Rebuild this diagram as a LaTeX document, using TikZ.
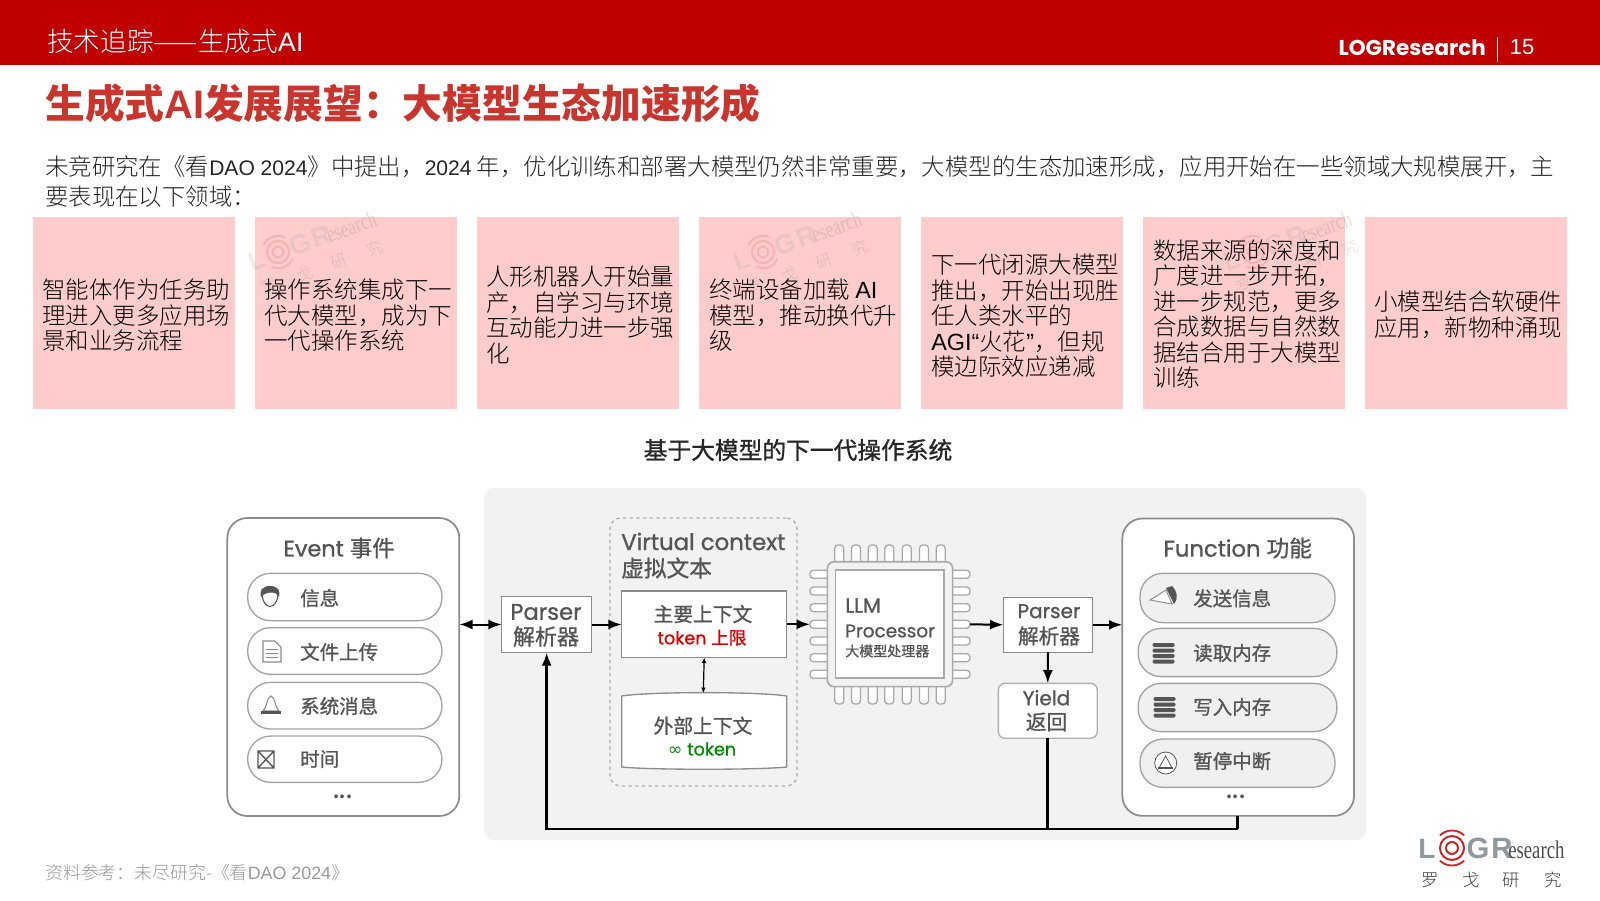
\documentclass[tikz,border=0pt]{standalone}
\usepackage{fontspec}
\usetikzlibrary{arrows.meta,shapes.geometric,calc}
\setmainfont{Noto Sans CJK SC}
\newfontfamily\arial{Liberation Sans}
\newfontfamily\geo{Poppins}
\newfontfamily\geomed[FakeBold=1.0]{Poppins}
\newfontfamily\cjkmed[FakeBold=1.0]{Noto Sans CJK SC}
\newfontfamily\cjklight{Noto Sans CJK SC Light}
\newfontfamily\serifslim[FakeStretch=0.74]{Liberation Serif}
\newcommand{\ar}[1]{{\arial #1}}
\newcommand{\arp}[1]{{\arial\fontsize{15.8pt}{20pt}\selectfont #1}}
\newcommand{\fsz}[2]{\fontsize{#1}{#2}\selectfont}
\definecolor{brand}{HTML}{C00000}
\definecolor{titlered}{HTML}{C9342D}
\definecolor{cardpink}{HTML}{FFCCCC}
\definecolor{panelgrey}{HTML}{F2F2F2}
\definecolor{diagink}{HTML}{555555}
\definecolor{edgegrey}{HTML}{8C8C8C}
\definecolor{ringred}{HTML}{C8282E}
\definecolor{logogrey}{HTML}{8F989E}
\tikzset{
  card/.style={fill=cardpink,draw=none,minimum width=151.5pt,minimum height=144pt,inner sep=0pt,outer sep=0pt},
  cardtext/.style={anchor=west,align=left,inner sep=0pt,font=\fsz{17.6pt}{19.1pt}\cjklight,text=black},
  bigframe/.style={draw=edgegrey,line width=1.3pt,rounded corners=15pt,fill=white,inner sep=0pt,outer sep=0pt},
  pill/.style={draw=edgegrey!80,line width=1pt,rounded corners=17.2pt,fill=white,inner sep=0pt,outer sep=0pt},
  greypill/.style={pill,fill=black!6},
  sqbox/.style={draw=edgegrey,line width=1pt,fill=white,inner sep=0pt,outer sep=0pt},
  dtext/.style={text=diagink,inner sep=0pt,font=\fsz{14.5pt}{16pt}\cjkmed},
  ptext/.style={text=diagink,inner sep=0pt,anchor=west,font=\fsz{14.6pt}{16pt}\cjkmed},
  flow/.style={black,line width=1.5pt,-{Latex[length=10pt,width=7.5pt]}},
  flowboth/.style={black,line width=1.5pt,{Latex[length=10pt,width=7.5pt]}-{Latex[length=10pt,width=7.5pt]}},
  flowsmall/.style={black,line width=0.9pt,{Latex[length=4pt,width=3.5pt]}-{Latex[length=4pt,width=3.5pt]}},
  trunk/.style={black,line width=2pt},
  pin/.style={draw=edgegrey!75,line width=1pt,fill=white,rounded corners=2.5pt},
  icon/.style={draw=diagink,line width=0.8pt},
}
% logo, origin at the centre of the rings, px coordinates
\newcommand{\logomark}{%
  \node[anchor=base,inner sep=0pt,text=logogrey,font=\fsz{21pt}{22pt}\bfseries\arial] at (-25,10) {L};
  \draw[ringred,line width=1.5pt] (0,0) circle[radius=6];
  \draw[ringred,line width=1.5pt] (0,0) circle[radius=12];
  \draw[ringred,line width=1.4pt] (-46:17.5) arc[start angle=-46,end angle=-134,radius=17.5];
  \draw[ringred,line width=1.4pt] (46:17.5) arc[start angle=46,end angle=134,radius=17.5];
  \node[anchor=base,inner sep=0pt,text=logogrey,font=\fsz{22pt}{22pt}\bfseries\arial] at (26,10) {G};
  \node[anchor=base west,inner sep=0pt,text=logogrey,font=\fsz{22pt}{22pt}\bfseries\arial] at (39,10) {R};
  \node[anchor=base west,inner sep=0pt,text=black!70,font=\fsz{19pt}{20pt}\serifslim] at (56,10) {esearch};
  \node[inner sep=0pt,text=black!75,font=\fsz{13pt}{14pt}\cjklight] at (-22,32) {罗};
  \node[inner sep=0pt,text=black!75,font=\fsz{13pt}{14pt}\cjklight] at (19,32) {戈};
  \node[inner sep=0pt,text=black!75,font=\fsz{13pt}{14pt}\cjklight] at (59,32) {研};
  \node[inner sep=0pt,text=black!75,font=\fsz{13pt}{14pt}\cjklight] at (101,32) {究};
}
\begin{document}
\begin{tikzpicture}[x=0.75pt,y=-0.75pt]
\useasboundingbox (0,0) rectangle (1600,900);
\fill[white] (0,0) rectangle (1600,900);
% header
\fill[brand] (0,0) rectangle (1600,65);
\node[anchor=west,inner sep=0pt,text=white,font=\fsz{20pt}{20pt}\cjklight] (sec) at (47,41) {技术追踪——生成式\ar{AI}};
\node[anchor=base east,inner sep=0pt,text=white,font=\fsz{16.1pt}{18pt}\geo\bfseries] (brandname) at (1486,55.7) {LOGResearch};
\draw[white,line width=0.8pt] (1497.7,37) -- (1497.7,62);
\node[inner sep=0pt,text=white,font=\fsz{16.5pt}{18pt}\arial] (pageno) at (1522,47) {15};
% title
\node[anchor=west,inner sep=0pt,text=titlered,font=\fsz{29.8pt}{30pt}\bfseries] (title) at (45,103) {生成式\ar{\bfseries AI}发展展望：大模型生态加速形成};
% paragraph
\node[anchor=west,inner sep=0pt,text=black!85,font=\fsz{17.57pt}{20pt}\cjklight] (para1) at (45,166.5) {未竞研究在《看\arp{DAO 2024}》中提出，\arp{2024} 年，优化训练和部署大模型仍然非常重要，大模型的生态加速形成，应用开始在一些领域大规模展开，主};
\node[anchor=west,inner sep=0pt,text=black!85,font=\fsz{17.57pt}{20pt}\cjklight] (para2) at (45,196.5) {要表现在以下领域：};
% cards
\node[card] (c1) at (133.6,313) {};
\node[card] (c2) at (355.7,313) {};
\node[card] (c3) at (577.8,313) {};
\node[card] (c4) at (799.9,313) {};
\node[card] (c5) at (1022,313) {};
\node[card] (c6) at (1244.1,313) {};
\node[card] (c7) at (1466.2,313) {};
% watermarks
\begin{scope}[shift={(278,252)},rotate=20,scale=0.92,transform shape,opacity=0.16]\logomark\end{scope}
\begin{scope}[shift={(763,252)},rotate=20,scale=0.92,transform shape,opacity=0.16]\logomark\end{scope}
\begin{scope}[shift={(1253,252)},rotate=20,scale=0.92,transform shape,opacity=0.16]\logomark\end{scope}
% card text
\node[cardtext] (t1) at (42,315.5) {智能体作为任务助\\理进入更多应用场\\景和业务流程};
\node[cardtext] (t2) at (264,315.5) {操作系统集成下一\\代大模型，成为下\\一代操作系统};
\node[cardtext] (t3) at (486,315) {人形机器人开始量\\产，自学习与环境\\互动能力进一步强\\化};
\node[cardtext] (t4) at (709,315.5) {终端设备加载 \ar{AI}\\模型，推动换代升\\级};
\node[cardtext] (t5) at (931,316) {下一代闭源大模型\\推出，开始出现胜\\任人类水平的\\\ar{AGI“}火花\ar{”}，但规\\模边际效应递减};
\node[cardtext] (t6) at (1153,314) {数据来源的深度和\\广度进一步开拓，\\进一步规范，更多\\合成数据与自然数\\据结合用于大模型\\训练};
\node[cardtext] (t7) at (1374,314.5) {小模型结合软硬件\\应用，新物种涌现};
% diagram title
\node[inner sep=0pt,text=black!85,font=\fsz{17.8pt}{20pt}\cjkmed] (dtitle) at (798,450) {基于大模型的下一代操作系统};
% panel
\fill[panelgrey,rounded corners=7pt] (484,488) rectangle (1366,840);
% Event frame
\node[bigframe,minimum width=174pt,minimum height=223.5pt] (event) at (343.3,667) {};
\node[dtext,font=\fsz{16.8pt}{17pt}\geomed] (eventt) at (339,548) {Event {\cjkmed 事件}};
\node[pill,minimum width=145.7pt,minimum height=35.5pt] (e1) at (344.8,597) {};
\node[pill,minimum width=145.7pt,minimum height=35pt] (e2) at (344.8,651) {};
\node[pill,minimum width=145.7pt,minimum height=35pt] (e3) at (344.8,705.7) {};
\node[pill,minimum width=145.7pt,minimum height=34.7pt] (e4) at (344.8,759.2) {};
\node[ptext] (e1t) at (300,598) {信息};
\node[ptext] (e2t) at (300,652) {文件上传};
\node[ptext] (e3t) at (300,706) {系统消息};
\node[ptext] (e4t) at (300,759) {时间};
\node[dtext,font=\fsz{13pt}{14pt}\bfseries] (edots) at (343,797) {...};
% event icons
\draw[icon,fill=white] (262,590) .. controls (261,612) and (279,612) .. (278,590) -- cycle;
\fill[diagink] (261,597) .. controls (257,582) and (283,582) .. (279,597) .. controls (277,591) and (266,591) .. (261,597) -- cycle;
\draw[icon,fill=white,draw=edgegrey] (263,641) -- (275,641) -- (281,647) -- (281,662) -- (263,662) -- cycle;
\draw[icon,line width=0.5pt,draw=edgegrey] (266,649) -- (278,649) (266,653) -- (278,653) (266,657) -- (278,657);
\draw[icon,draw=edgegrey] (263,711) .. controls (268,706) and (266,698) .. (271,696) .. controls (276,698) and (274,706) .. (279,711) -- cycle;
\fill[diagink] (261,711) rectangle (281,714);
\draw[icon,line width=1pt] (258,751) rectangle (274,768) (258,751) -- (274,768) (274,751) -- (258,768);
% Parser L
\node[sqbox,minimum width=67.5pt,minimum height=41.7pt] (pl) at (546.7,624.5) {};
\node[dtext,font=\fsz{17pt}{18pt}\geomed] (plt1) at (546,612) {Parser};
\node[dtext,font=\fsz{16.5pt}{18pt}\cjkmed] (plt2) at (546,636.5) {解析器};
% Virtual
\node[draw=edgegrey!70,line width=1pt,dash pattern=on 2.5pt off 2.5pt,rounded corners=8pt,minimum width=140.2pt,minimum height=201pt,inner sep=0pt] (virt) at (703.5,652) {};
\node[dtext,anchor=west,font=\fsz{17.1pt}{18pt}\geomed] (virtt1) at (621,541.5) {Virtual context};
\node[dtext,anchor=west,font=\fsz{17pt}{18pt}\cjkmed] (virtt2) at (621,568) {虚拟文本};
\node[sqbox,minimum width=123.7pt,minimum height=50pt] (ctx) at (704.2,624.3) {};
\node[dtext,font=\fsz{14.8pt}{16pt}\cjkmed] (ctx1) at (703,614) {主要上下文};
\node[dtext,text=red!85!black,font=\fsz{13.2pt}{15pt}\geomed] (ctx2) at (702,637.7) {token {\cjkmed 上限}};
% external cylinder
\coordinate (extt) at (703.3,693);
\draw[edgegrey,line width=1pt,fill=white] (621.7,696) .. controls (650,691.5) and (758,691.5) .. (786.7,696) -- (786.7,767) .. controls (758,770) and (650,770) .. (621.7,767) -- cycle;
\node[dtext,font=\fsz{14.8pt}{16pt}\cjkmed] (ext1) at (703,725.7) {外部上下文};
\node[dtext,text=green!55!black,font=\fsz{13.2pt}{15pt}\geomed] (ext2) at (702,749) {{\fontspec{DejaVu Sans}∞} token};
% chip pins
\foreach \px in {839.3,856,872.7,889.3,906.7,924,940.7}{
  \draw[pin] (\px-4.5,564) -- (\px-4.5,545) -- (\px+4.5,545) -- (\px+4.5,564);
  \draw[pin] (\px-4.5,684) -- (\px-4.5,704) -- (\px+4.5,704) -- (\px+4.5,684);
}
\foreach \py in {574.3,591,607.7,624.3,641,657.7,674.3}{
  \draw[pin] (830,\py-4) -- (810,\py-4) -- (810,\py+4) -- (830,\py+4);
  \draw[pin] (950,\py-4) -- (970,\py-4) -- (970,\py+4) -- (950,\py+4);
}
\node[draw=edgegrey!75,line width=1.2pt,fill=panelgrey,rounded corners=5pt,minimum width=94pt,minimum height=93.7pt,inner sep=0pt,outer sep=0pt] (chip) at (890,624.2) {};
\node[sqbox,draw=edgegrey!75,minimum width=81.2pt,minimum height=81pt] (chipin) at (889.8,624) {};
\node[dtext,anchor=west,font=\fsz{15.5pt}{17pt}\geomed] (llm1) at (845,605.5) {LLM};
\node[dtext,anchor=west,font=\fsz{13.8pt}{17pt}\geomed] (llm2) at (845,631) {Processor};
\node[dtext,anchor=west,font=\fsz{10.5pt}{12pt}\cjkmed] (llm3) at (845,651) {大模型处理器};
\coordinate (chipw) at (810,624.3);
\coordinate (chipe) at (970,624.3);
% Parser R
\node[sqbox,minimum width=67pt,minimum height=41.2pt] (pr) at (1048,624.8) {};
\node[dtext,font=\fsz{15pt}{18pt}\geomed] (prt1) at (1049,611.2) {Parser};
\node[dtext,font=\fsz{15.5pt}{18pt}\cjkmed] (prt2) at (1049,636) {解析器};
% Yield
\node[sqbox,draw=edgegrey!70,rounded corners=5pt,minimum width=74.2pt,minimum height=41.2pt] (yield) at (1047.8,710.8) {};
\node[dtext,font=\fsz{15pt}{18pt}\geomed] (yt1) at (1046.5,697.7) {Yield};
\node[dtext,font=\fsz{15.5pt}{18pt}\cjkmed] (yt2) at (1046.5,722) {返回};
% Function
\node[bigframe,minimum width=173.8pt,minimum height=223pt] (func) at (1238.2,667.2) {};
\node[dtext,font=\fsz{17pt}{17pt}\geomed] (funct) at (1237.7,548) {Function {\cjkmed 功能}};
\node[greypill,minimum width=146.2pt,minimum height=37pt] (f1) at (1237.5,598) {};
\node[greypill,minimum width=149pt,minimum height=36.2pt] (f2) at (1237.5,652.5) {};
\node[greypill,minimum width=149pt,minimum height=36.2pt] (f3) at (1237.5,707.5) {};
\node[greypill,minimum width=146.2pt,minimum height=36.2pt] (f4) at (1237.5,763.2) {};
\node[ptext] (f1t) at (1193,598.3) {发送信息};
\node[ptext] (f2t) at (1193,653) {读取内存};
\node[ptext] (f3t) at (1193,707) {写入内存};
\node[ptext] (f4t) at (1193,761) {暂停中断};
\node[dtext,font=\fsz{13pt}{14pt}\bfseries] (fdots) at (1236,797) {...};
% function icons
\draw[icon,fill=white,line width=0.7pt,draw=edgegrey] (1150,600) -- (1166,590) -- (1172,604) -- cycle;
\fill[diagink] (1166,588) -- (1172,586) .. controls (1178,592) and (1178,600) .. (1174,604) -- cycle;
\foreach \iy/\ix in {653/1163.5,707/1164.5}{
  \foreach \d in {-9,-3.5,2,7.5}{
    \fill[diagink,rounded corners=1pt] (\ix-11,\iy+\d-1) rectangle (\ix+11,\iy+\d+3);
  }
}
\draw[icon,line width=0.6pt,fill=white] (1165.7,763) circle[radius=11];
\draw[icon,line width=0.6pt] (1159,768) -- (1165.7,756) -- (1172,768);
\fill[diagink] (1158,767) rectangle (1173,769);
% connectors
\draw[flowboth] (event.east |- pl.west) -- (pl.west);
\draw[flow] (pl.east) -- (ctx.west |- pl.east);
\draw[flow] (ctx.east) -- (chipw);
\draw[flowsmall] (ctx.south) -- (extt);
\draw[flow] (chipe) -- (pr.west);
\draw[flow] (pr.east) -- (func.west |- pr.east);
\draw[flow] (pr.south) -- (yield.north);
\coordinate (bus) at (1237.7,829);
\draw[trunk] (func.south -| bus) -- (bus);
\draw[trunk] (yield.south) -- (yield.south |- bus);
\draw[flow,line width=2pt] (bus) -- (bus -| pl.south) -- (pl.south);
% footer
\node[anchor=west,inner sep=0pt,text=black!40,font=\fsz{13.4pt}{16pt}\cjklight] (src) at (45,872.5) {资料参考：未尽研究-《看\ar{DAO 2024}》};
% logo
\begin{scope}[shift={(1452,848)}]\logomark\end{scope}
\end{tikzpicture}
\end{document}
